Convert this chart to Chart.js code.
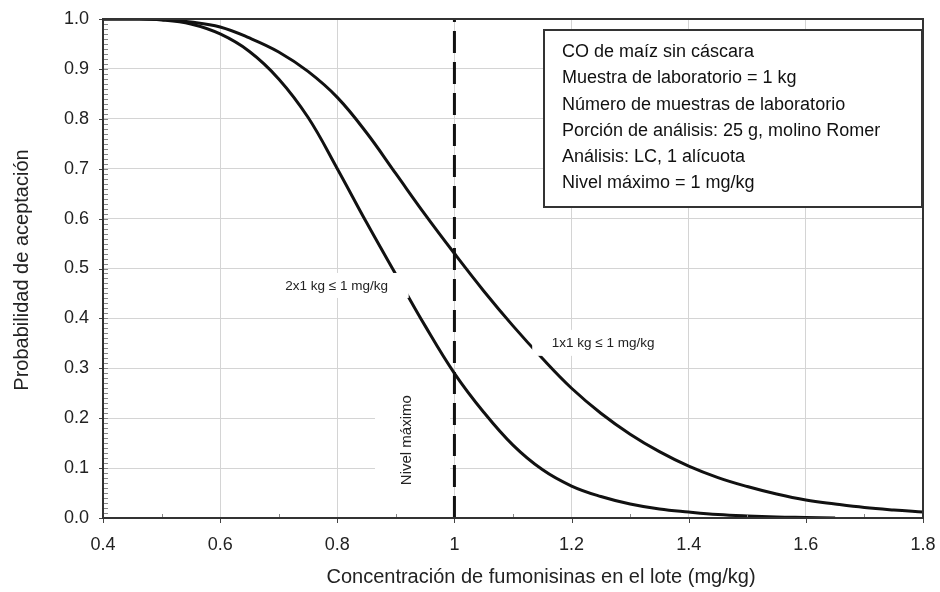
<!DOCTYPE html>
<html>
<head>
<meta charset="utf-8">
<script src="https://cdn.jsdelivr.net/npm/chart.js@4.4.1/dist/chart.umd.min.js"></script>
<style>
  html, body { margin: 0; padding: 0; background: #fff; }
  #wrap { width: 940px; height: 592px; }
</style>
</head>
<body>
<div id="wrap"><canvas id="oc-chart" width="940" height="592"></canvas></div>
<script>
const FONT = "'Liberation Sans', Arial, sans-serif";

// Concentración de fumonisinas (mg/kg)
const concentration = [0.40, 0.45, 0.50, 0.55, 0.60, 0.65, 0.70, 0.75, 0.80, 0.85, 0.90, 0.95, 1.00,
  1.05, 1.10, 1.15, 1.20, 1.25, 1.30, 1.35, 1.40, 1.45, 1.50, 1.55, 1.60, 1.65, 1.70, 1.75, 1.80];

// 1x1 kg <= 1 mg/kg
const prob1x1 = [1.000, 1.000, 0.999, 0.994, 0.984, 0.962, 0.934, 0.895, 0.843, 0.772, 0.690, 0.608, 0.530,
  0.455, 0.385, 0.320, 0.260, 0.210, 0.168, 0.133, 0.104, 0.081, 0.063, 0.048, 0.036, 0.028, 0.021, 0.016, 0.012];

// 2x1 kg <= 1 mg/kg (ends at 1.65)
const prob2x1 = [1.000, 1.000, 0.998, 0.990, 0.970, 0.935, 0.880, 0.803, 0.700, 0.592, 0.488, 0.385, 0.290,
  0.212, 0.146, 0.097, 0.064, 0.043, 0.028, 0.018, 0.012, 0.007, 0.004, 0.002, 0.001, 0.000];

const nivelMaximo = 1;

const xTickLabels = ["0.4", "0.6", "0.8", "1", "1.2", "1.4", "1.6", "1.8"];
const yTickLabels = ["0.0", "0.1", "0.2", "0.3", "0.4", "0.5", "0.6", "0.7", "0.8", "0.9", "1.0"];

const infoLines = [
  "CO de maíz sin cáscara",
  "Muestra de laboratorio = 1 kg",
  "Número de muestras de laboratorio",
  "Porción de análisis: 25 g, molino Romer",
  "Análisis: LC, 1 alícuota",
  "Nivel máximo = 1 mg/kg"
];

function toPoints(xs, ys) {
  return ys.map((y, i) => ({ x: xs[i], y }));
}

// text labels sitting on white boxes (box offsets relative to text centre)
const curveLabels = [
  { text: "2x1 kg ≤ 1 mg/kg", x: 0.799, y: 0.465, size: 13.5, box: [-59, -13, 72, 12] },
  { text: "1x1 kg ≤ 1 mg/kg", x: 1.254, y: 0.351, size: 13.5, box: [-71, -13, 65, 13] }
];

const overlayPlugin = {
  id: "overlay",
  afterDatasetsDraw(chart) {
    const { ctx, scales: { x, y } } = chart;
    ctx.save();

    curveLabels.forEach((lab) => {
      const cx = x.getPixelForValue(lab.x);
      const cy = y.getPixelForValue(lab.y);
      const [l, t, r, b] = lab.box;
      ctx.fillStyle = "#fff";
      ctx.fillRect(cx + l, cy + t, r - l, b - t);
      ctx.fillStyle = "#222";
      ctx.font = `${lab.size}px ${FONT}`;
      ctx.textAlign = "center";
      ctx.textBaseline = "middle";
      ctx.fillText(lab.text, cx, cy);
    });

    // Nivel máximo (vertical)
    const nx = x.getPixelForValue(0.919);
    const ny = y.getPixelForValue(0.156);
    ctx.fillStyle = "#fff";
    ctx.fillRect(nx - 32, ny - 62, 75, 134);
    ctx.save();
    ctx.translate(nx, ny);
    ctx.rotate(-Math.PI / 2);
    ctx.fillStyle = "#222";
    ctx.font = `15px ${FONT}`;
    ctx.textAlign = "center";
    ctx.textBaseline = "middle";
    ctx.fillText("Nivel máximo", 0, 0);
    ctx.restore();

    // info box
    const bx = 544, by = 30, bw = 378, bh = 177;
    ctx.fillStyle = "#fff";
    ctx.fillRect(bx, by, bw, bh);
    ctx.strokeStyle = "#333";
    ctx.lineWidth = 2;
    ctx.strokeRect(bx, by, bw, bh);
    ctx.fillStyle = "#111";
    ctx.font = `18px ${FONT}`;
    ctx.textAlign = "left";
    ctx.textBaseline = "middle";
    infoLines.forEach((line, i) => {
      ctx.fillText(line, 562, 52 + i * 26.3);
    });

    ctx.restore();
  },
  afterDraw(chart) {
    const { ctx, chartArea: a, scales: { x, y } } = chart;
    ctx.save();

    // minor ticks, y axis (inside)
    ctx.strokeStyle = "#888";
    ctx.lineWidth = 1;
    ctx.beginPath();
    for (let i = 1; i < 100; i += 1) {
      const py = Math.round(y.getPixelForValue(i / 100)) + 0.5;
      ctx.moveTo(a.left, py);
      ctx.lineTo(a.left + 5, py);
    }
    // minor ticks, x axis (inside)
    for (let i = 5; i < 18; i += 2) {
      const px = Math.round(x.getPixelForValue(i / 10)) + 0.5;
      ctx.moveTo(px, a.bottom);
      ctx.lineTo(px, a.bottom - 4);
    }
    ctx.stroke();

    // major ticks (outside)
    ctx.strokeStyle = "#444";
    ctx.beginPath();
    for (let i = 0; i <= 10; i += 1) {
      const py = Math.round(y.getPixelForValue(i / 10)) + 0.5;
      ctx.moveTo(a.left - 4, py);
      ctx.lineTo(a.left, py);
    }
    for (let i = 4; i <= 18; i += 2) {
      const px = Math.round(x.getPixelForValue(i / 10)) + 0.5;
      ctx.moveTo(px, a.bottom);
      ctx.lineTo(px, a.bottom + 5);
    }
    ctx.stroke();

    // plot frame
    ctx.strokeStyle = "#333";
    ctx.lineWidth = 2;
    ctx.strokeRect(a.left, a.top, a.right - a.left, a.bottom - a.top);

    // axis titles
    ctx.fillStyle = "#222";
    ctx.font = `20px ${FONT}`;
    ctx.textAlign = "center";
    ctx.textBaseline = "middle";
    ctx.fillText("Concentración de fumonisinas en el lote (mg/kg)", 541, 577);
    ctx.save();
    ctx.translate(22, 270);
    ctx.rotate(-Math.PI / 2);
    ctx.fillText("Probabilidad de aceptación", 0, 0);
    ctx.restore();

    ctx.restore();
  }
};

const chart = new Chart(document.querySelector("#oc-chart"), {
  type: "line",
  plugins: [overlayPlugin],
  data: {
    datasets: [
      {
        label: "1x1 kg ≤ 1 mg/kg",
        data: toPoints(concentration, prob1x1),
        borderColor: "#111",
        borderWidth: 3,
        pointRadius: 0,
        tension: 0.4,
        fill: false
      },
      {
        label: "2x1 kg ≤ 1 mg/kg",
        data: toPoints(concentration, prob2x1),
        borderColor: "#111",
        borderWidth: 3,
        pointRadius: 0,
        tension: 0.4,
        fill: false
      },
      {
        label: "Nivel máximo",
        data: [{ x: nivelMaximo, y: 0 }, { x: nivelMaximo, y: 1 }],
        borderColor: "#111",
        borderWidth: 3,
        borderDash: [22, 9],
        pointRadius: 0,
        fill: false
      }
    ]
  },
  options: {
    responsive: false,
    animation: false,
    devicePixelRatio: 1,
    layout: { padding: { top: 19, right: 17, left: 0, bottom: 0 } },
    plugins: {
      legend: { display: false },
      tooltip: { enabled: false }
    },
    scales: {
      x: {
        type: "linear",
        min: 0.4,
        max: 1.8,
        afterFit(scale) {
          scale.height = 74;
          scale.paddingLeft = 0;
          scale.paddingRight = 0;
        },
        afterBuildTicks(scale) {
          scale.ticks = xTickLabels.map((t) => ({ value: Number(t) }));
        },
        grid: { color: "#d4d4d4", lineWidth: 1, drawTicks: false },
        border: { display: false },
        ticks: {
          padding: 16,
          color: "#222",
          font: { family: FONT, size: 18 },
          maxRotation: 0,
          autoSkip: false,
          callback: (_v, i) => xTickLabels[i]
        }
      },
      y: {
        min: 0,
        max: 1,
        afterFit(scale) {
          scale.width = 103;
          scale.paddingTop = 0;
          scale.paddingBottom = 0;
        },
        afterBuildTicks(scale) {
          scale.ticks = yTickLabels.map((t) => ({ value: Number(t) }));
        },
        grid: { color: "#d4d4d4", lineWidth: 1, drawTicks: false },
        border: { display: false },
        ticks: {
          padding: 14,
          color: "#222",
          font: { family: FONT, size: 18 },
          autoSkip: false,
          callback: (_v, i) => yTickLabels[i]
        }
      }
    }
  }
});
</script>
</body>
</html>
